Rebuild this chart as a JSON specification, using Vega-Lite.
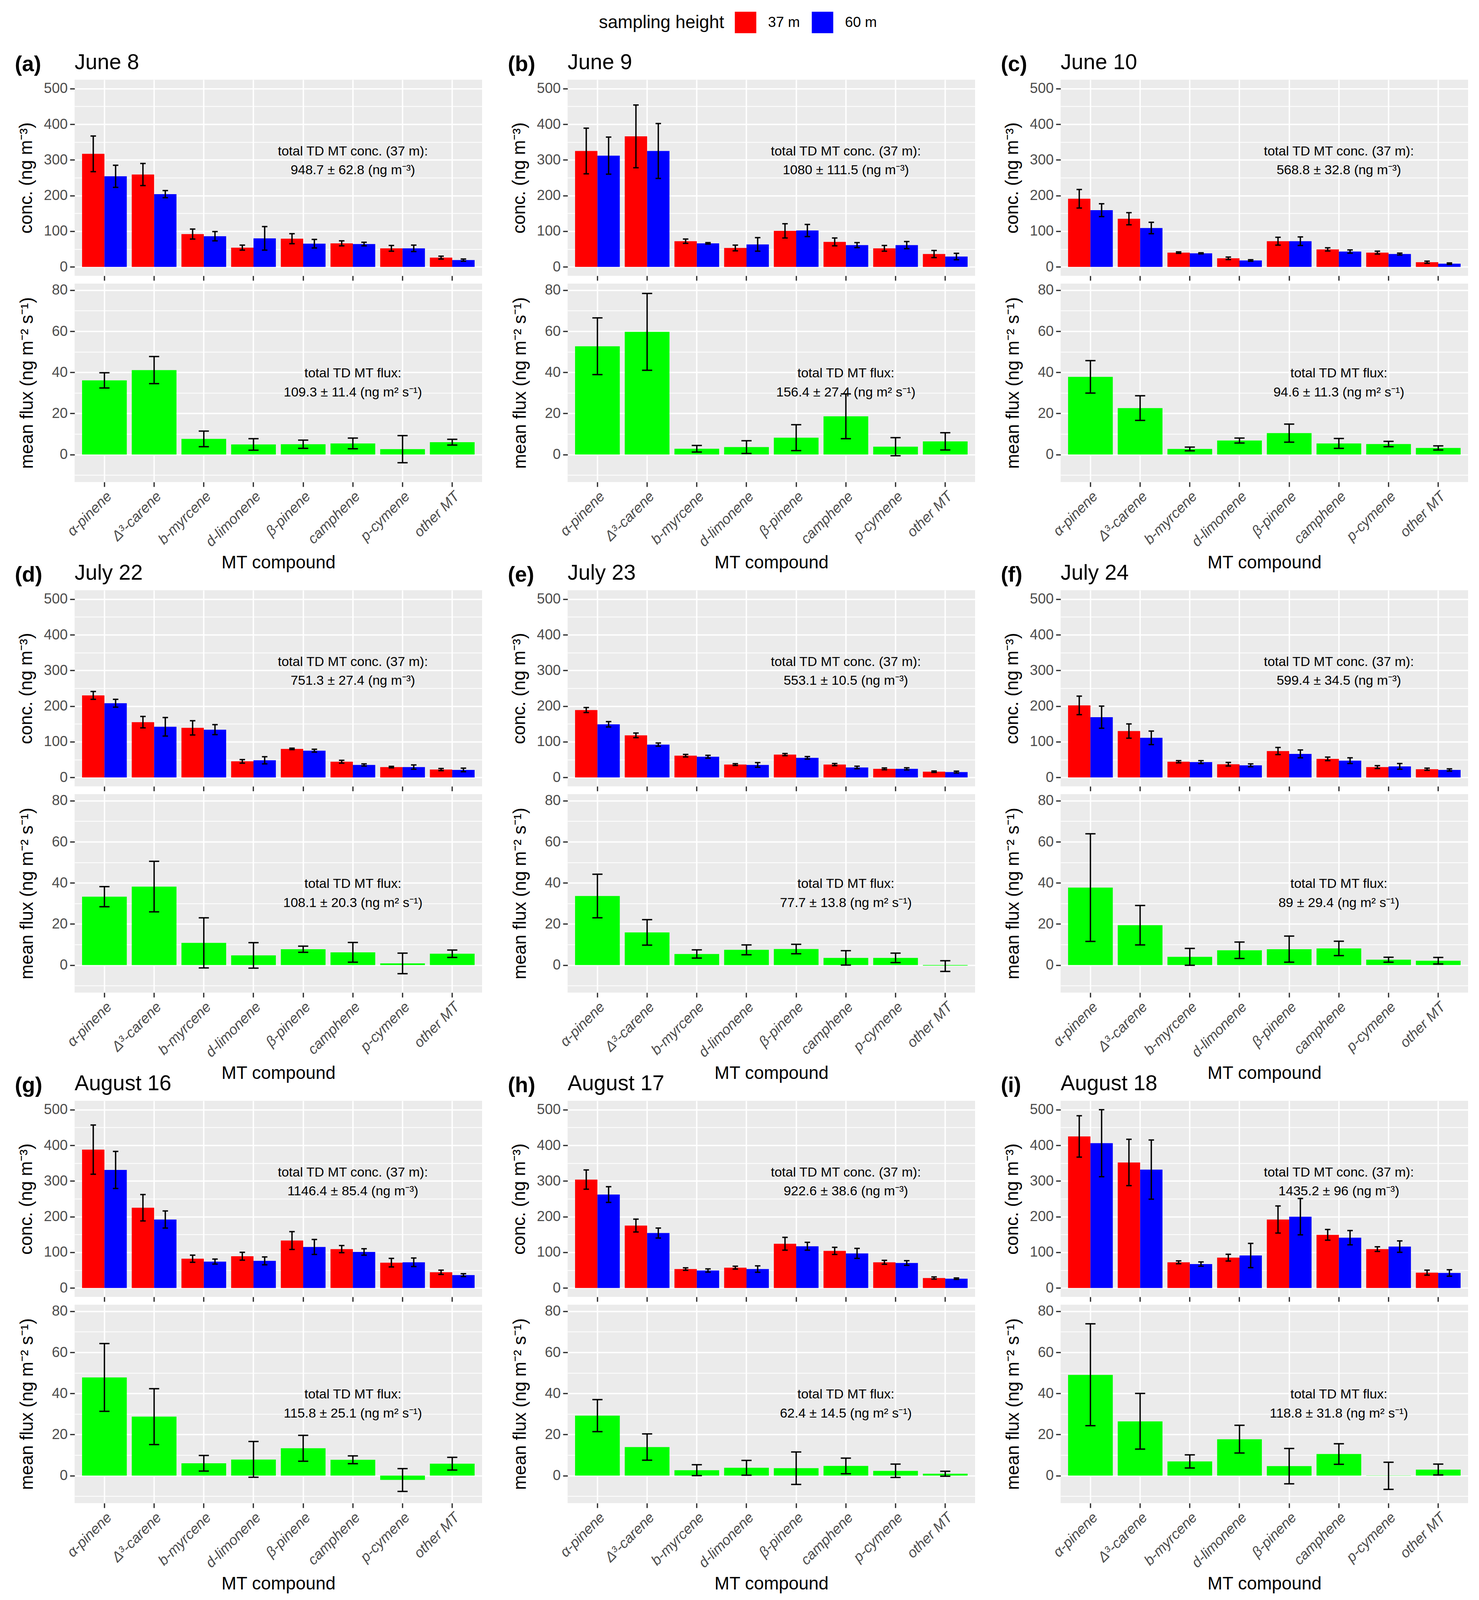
{
"$schema": "https://vega.github.io/schema/vega-lite/v6.json",
"background": "white",
"padding": {"left": 38, "top": 30, "right": 10, "bottom": 10},
"config": {
  "font": "Liberation Sans",
  "view": {"fill": "#EBEBEB", "stroke": null},
  "axis": {"domain": false, "grid": true, "gridColor": "#FFFFFF", "gridWidth": 3.5, "tickColor": "#333333", "tickWidth": 3.3, "tickSize": 12, "labelColor": "#4D4D4D", "labelFontSize": 36.7, "labelPadding": 6, "labelLimit": 1000, "titleFontSize": 45.8, "titleColor": "#000000", "titleFontWeight": "normal", "labelOverlap": false, "labelBound": false, "titlePadding": 14},
  "title": {"anchor": "start", "frame": "group", "fontSize": 55, "fontWeight": "normal", "color": "#000000", "baseline": "bottom", "offset": 15}
},
"datasets": {
"conc": [
{"d":"June 8","c":"α-pinene","h":"37 m","v":317,"lo":267,"hi":367},{"d":"June 8","c":"α-pinene","h":"60 m","v":254,"lo":223,"hi":285},
{"d":"June 8","c":"Δ³-carene","h":"37 m","v":259,"lo":228,"hi":290},{"d":"June 8","c":"Δ³-carene","h":"60 m","v":204,"lo":194,"hi":214},
{"d":"June 8","c":"b-myrcene","h":"37 m","v":92,"lo":78,"hi":106},{"d":"June 8","c":"b-myrcene","h":"60 m","v":86,"lo":73,"hi":99},
{"d":"June 8","c":"d-limonene","h":"37 m","v":54,"lo":47,"hi":61},{"d":"June 8","c":"d-limonene","h":"60 m","v":80,"lo":47,"hi":113},
{"d":"June 8","c":"β-pinene","h":"37 m","v":79,"lo":65,"hi":93},{"d":"June 8","c":"β-pinene","h":"60 m","v":65,"lo":53,"hi":77},
{"d":"June 8","c":"camphene","h":"37 m","v":66,"lo":59,"hi":73},{"d":"June 8","c":"camphene","h":"60 m","v":64,"lo":59,"hi":69},
{"d":"June 8","c":"p-cymene","h":"37 m","v":52,"lo":44,"hi":60},{"d":"June 8","c":"p-cymene","h":"60 m","v":52,"lo":43,"hi":61},
{"d":"June 8","c":"other MT","h":"37 m","v":26,"lo":22,"hi":30},{"d":"June 8","c":"other MT","h":"60 m","v":19,"lo":16,"hi":22},
{"d":"June 9","c":"α-pinene","h":"37 m","v":325,"lo":261,"hi":389},{"d":"June 9","c":"α-pinene","h":"60 m","v":312,"lo":260,"hi":364},
{"d":"June 9","c":"Δ³-carene","h":"37 m","v":366,"lo":278,"hi":454},{"d":"June 9","c":"Δ³-carene","h":"60 m","v":325,"lo":248,"hi":402},
{"d":"June 9","c":"b-myrcene","h":"37 m","v":72,"lo":66,"hi":78},{"d":"June 9","c":"b-myrcene","h":"60 m","v":66,"lo":64,"hi":68},
{"d":"June 9","c":"d-limonene","h":"37 m","v":53,"lo":45,"hi":61},{"d":"June 9","c":"d-limonene","h":"60 m","v":63,"lo":44,"hi":82},
{"d":"June 9","c":"β-pinene","h":"37 m","v":101,"lo":81,"hi":121},{"d":"June 9","c":"β-pinene","h":"60 m","v":102,"lo":85,"hi":119},
{"d":"June 9","c":"camphene","h":"37 m","v":70,"lo":59,"hi":81},{"d":"June 9","c":"camphene","h":"60 m","v":61,"lo":54,"hi":68},
{"d":"June 9","c":"p-cymene","h":"37 m","v":52,"lo":44,"hi":60},{"d":"June 9","c":"p-cymene","h":"60 m","v":61,"lo":51,"hi":71},
{"d":"June 9","c":"other MT","h":"37 m","v":36,"lo":26,"hi":46},{"d":"June 9","c":"other MT","h":"60 m","v":29,"lo":20,"hi":38},
{"d":"June 10","c":"α-pinene","h":"37 m","v":191,"lo":165,"hi":217},{"d":"June 10","c":"α-pinene","h":"60 m","v":159,"lo":141,"hi":177},
{"d":"June 10","c":"Δ³-carene","h":"37 m","v":135,"lo":118,"hi":152},{"d":"June 10","c":"Δ³-carene","h":"60 m","v":109,"lo":93,"hi":125},
{"d":"June 10","c":"b-myrcene","h":"37 m","v":40,"lo":38,"hi":42},{"d":"June 10","c":"b-myrcene","h":"60 m","v":38,"lo":36.5,"hi":39.5},
{"d":"June 10","c":"d-limonene","h":"37 m","v":24,"lo":20.5,"hi":27.5},{"d":"June 10","c":"d-limonene","h":"60 m","v":18,"lo":16,"hi":20},
{"d":"June 10","c":"β-pinene","h":"37 m","v":72,"lo":61,"hi":83},{"d":"June 10","c":"β-pinene","h":"60 m","v":72,"lo":60,"hi":84},
{"d":"June 10","c":"camphene","h":"37 m","v":49,"lo":44.5,"hi":53.5},{"d":"June 10","c":"camphene","h":"60 m","v":43,"lo":38.5,"hi":47.5},
{"d":"June 10","c":"p-cymene","h":"37 m","v":40,"lo":36,"hi":44},{"d":"June 10","c":"p-cymene","h":"60 m","v":36,"lo":33.5,"hi":38.5},
{"d":"June 10","c":"other MT","h":"37 m","v":13,"lo":10,"hi":16},{"d":"June 10","c":"other MT","h":"60 m","v":9,"lo":7,"hi":11},
{"d":"July 22","c":"α-pinene","h":"37 m","v":230,"lo":219,"hi":241},{"d":"July 22","c":"α-pinene","h":"60 m","v":208,"lo":197,"hi":219},
{"d":"July 22","c":"Δ³-carene","h":"37 m","v":155,"lo":139,"hi":171},{"d":"July 22","c":"Δ³-carene","h":"60 m","v":142,"lo":116,"hi":168},
{"d":"July 22","c":"b-myrcene","h":"37 m","v":139,"lo":119,"hi":159},{"d":"July 22","c":"b-myrcene","h":"60 m","v":134,"lo":120,"hi":148},
{"d":"July 22","c":"d-limonene","h":"37 m","v":45,"lo":40,"hi":50},{"d":"July 22","c":"d-limonene","h":"60 m","v":48,"lo":38,"hi":58},
{"d":"July 22","c":"β-pinene","h":"37 m","v":80,"lo":78,"hi":82},{"d":"July 22","c":"β-pinene","h":"60 m","v":75,"lo":71,"hi":79},
{"d":"July 22","c":"camphene","h":"37 m","v":44,"lo":40,"hi":48},{"d":"July 22","c":"camphene","h":"60 m","v":35,"lo":32,"hi":38},
{"d":"July 22","c":"p-cymene","h":"37 m","v":29,"lo":27,"hi":31},{"d":"July 22","c":"p-cymene","h":"60 m","v":29,"lo":23,"hi":35},
{"d":"July 22","c":"other MT","h":"37 m","v":22,"lo":19,"hi":25},{"d":"July 22","c":"other MT","h":"60 m","v":21,"lo":16,"hi":26},
{"d":"July 23","c":"α-pinene","h":"37 m","v":189,"lo":182,"hi":196},{"d":"July 23","c":"α-pinene","h":"60 m","v":149,"lo":141.5,"hi":156.5},
{"d":"July 23","c":"Δ³-carene","h":"37 m","v":118,"lo":111.5,"hi":124.5},{"d":"July 23","c":"Δ³-carene","h":"60 m","v":92,"lo":87.5,"hi":96.5},
{"d":"July 23","c":"b-myrcene","h":"37 m","v":61,"lo":57.5,"hi":64.5},{"d":"July 23","c":"b-myrcene","h":"60 m","v":58,"lo":54,"hi":62},
{"d":"July 23","c":"d-limonene","h":"37 m","v":36,"lo":33.5,"hi":38.5},{"d":"July 23","c":"d-limonene","h":"60 m","v":35,"lo":28.5,"hi":41.5},
{"d":"July 23","c":"β-pinene","h":"37 m","v":64,"lo":61,"hi":67},{"d":"July 23","c":"β-pinene","h":"60 m","v":55,"lo":51.5,"hi":58.5},
{"d":"July 23","c":"camphene","h":"37 m","v":36,"lo":33,"hi":39},{"d":"July 23","c":"camphene","h":"60 m","v":28,"lo":24.5,"hi":31.5},
{"d":"July 23","c":"p-cymene","h":"37 m","v":24,"lo":21.5,"hi":26.5},{"d":"July 23","c":"p-cymene","h":"60 m","v":24,"lo":21,"hi":27},
{"d":"July 23","c":"other MT","h":"37 m","v":16,"lo":14,"hi":18},{"d":"July 23","c":"other MT","h":"60 m","v":15,"lo":12.5,"hi":17.5},
{"d":"July 24","c":"α-pinene","h":"37 m","v":202,"lo":176,"hi":228},{"d":"July 24","c":"α-pinene","h":"60 m","v":169,"lo":138,"hi":200},
{"d":"July 24","c":"Δ³-carene","h":"37 m","v":130,"lo":110,"hi":150},{"d":"July 24","c":"Δ³-carene","h":"60 m","v":111,"lo":92,"hi":130},
{"d":"July 24","c":"b-myrcene","h":"37 m","v":44,"lo":41,"hi":47},{"d":"July 24","c":"b-myrcene","h":"60 m","v":43,"lo":39,"hi":47},
{"d":"July 24","c":"d-limonene","h":"37 m","v":37,"lo":32,"hi":42},{"d":"July 24","c":"d-limonene","h":"60 m","v":34,"lo":30,"hi":38},
{"d":"July 24","c":"β-pinene","h":"37 m","v":74,"lo":64,"hi":84},{"d":"July 24","c":"β-pinene","h":"60 m","v":66,"lo":55,"hi":77},
{"d":"July 24","c":"camphene","h":"37 m","v":52,"lo":47,"hi":57},{"d":"July 24","c":"camphene","h":"60 m","v":47,"lo":39,"hi":55},
{"d":"July 24","c":"p-cymene","h":"37 m","v":29,"lo":25,"hi":33},{"d":"July 24","c":"p-cymene","h":"60 m","v":31,"lo":23,"hi":39},
{"d":"July 24","c":"other MT","h":"37 m","v":23,"lo":20,"hi":26},{"d":"July 24","c":"other MT","h":"60 m","v":21,"lo":18,"hi":24},
{"d":"August 16","c":"α-pinene","h":"37 m","v":388,"lo":319,"hi":457},{"d":"August 16","c":"α-pinene","h":"60 m","v":331,"lo":279,"hi":383},
{"d":"August 16","c":"Δ³-carene","h":"37 m","v":225,"lo":188,"hi":262},{"d":"August 16","c":"Δ³-carene","h":"60 m","v":192,"lo":168,"hi":216},
{"d":"August 16","c":"b-myrcene","h":"37 m","v":82,"lo":72,"hi":92},{"d":"August 16","c":"b-myrcene","h":"60 m","v":74,"lo":67,"hi":81},
{"d":"August 16","c":"d-limonene","h":"37 m","v":89,"lo":78,"hi":100},{"d":"August 16","c":"d-limonene","h":"60 m","v":76,"lo":65,"hi":87},
{"d":"August 16","c":"β-pinene","h":"37 m","v":133,"lo":108,"hi":158},{"d":"August 16","c":"β-pinene","h":"60 m","v":115,"lo":94,"hi":136},
{"d":"August 16","c":"camphene","h":"37 m","v":109,"lo":99,"hi":119},{"d":"August 16","c":"camphene","h":"60 m","v":101,"lo":92,"hi":110},
{"d":"August 16","c":"p-cymene","h":"37 m","v":71,"lo":59,"hi":83},{"d":"August 16","c":"p-cymene","h":"60 m","v":72,"lo":60,"hi":84},
{"d":"August 16","c":"other MT","h":"37 m","v":44,"lo":38,"hi":50},{"d":"August 16","c":"other MT","h":"60 m","v":36,"lo":32,"hi":40},
{"d":"August 17","c":"α-pinene","h":"37 m","v":304,"lo":277,"hi":331},{"d":"August 17","c":"α-pinene","h":"60 m","v":262,"lo":240,"hi":284},
{"d":"August 17","c":"Δ³-carene","h":"37 m","v":175,"lo":157,"hi":193},{"d":"August 17","c":"Δ³-carene","h":"60 m","v":154,"lo":140,"hi":168},
{"d":"August 17","c":"b-myrcene","h":"37 m","v":53,"lo":49.5,"hi":56.5},{"d":"August 17","c":"b-myrcene","h":"60 m","v":49,"lo":44.5,"hi":53.5},
{"d":"August 17","c":"d-limonene","h":"37 m","v":57,"lo":53,"hi":61},{"d":"August 17","c":"d-limonene","h":"60 m","v":53,"lo":44,"hi":62},
{"d":"August 17","c":"β-pinene","h":"37 m","v":124,"lo":106,"hi":142},{"d":"August 17","c":"β-pinene","h":"60 m","v":117,"lo":106,"hi":128},
{"d":"August 17","c":"camphene","h":"37 m","v":104,"lo":94,"hi":114},{"d":"August 17","c":"camphene","h":"60 m","v":97,"lo":83,"hi":111},
{"d":"August 17","c":"p-cymene","h":"37 m","v":72,"lo":66.5,"hi":77.5},{"d":"August 17","c":"p-cymene","h":"60 m","v":70,"lo":63.5,"hi":76.5},
{"d":"August 17","c":"other MT","h":"37 m","v":28,"lo":25,"hi":31},{"d":"August 17","c":"other MT","h":"60 m","v":26,"lo":24,"hi":28},
{"d":"August 18","c":"α-pinene","h":"37 m","v":425,"lo":367,"hi":483},{"d":"August 18","c":"α-pinene","h":"60 m","v":406,"lo":312,"hi":500},
{"d":"August 18","c":"Δ³-carene","h":"37 m","v":352,"lo":287,"hi":417},{"d":"August 18","c":"Δ³-carene","h":"60 m","v":332,"lo":249,"hi":415},
{"d":"August 18","c":"b-myrcene","h":"37 m","v":72,"lo":68,"hi":76},{"d":"August 18","c":"b-myrcene","h":"60 m","v":67,"lo":61,"hi":73},
{"d":"August 18","c":"d-limonene","h":"37 m","v":85,"lo":75.5,"hi":94.5},{"d":"August 18","c":"d-limonene","h":"60 m","v":91,"lo":57,"hi":125},
{"d":"August 18","c":"β-pinene","h":"37 m","v":192,"lo":154,"hi":230},{"d":"August 18","c":"β-pinene","h":"60 m","v":200,"lo":149,"hi":251},
{"d":"August 18","c":"camphene","h":"37 m","v":149,"lo":134,"hi":164},{"d":"August 18","c":"camphene","h":"60 m","v":141,"lo":121,"hi":161},
{"d":"August 18","c":"p-cymene","h":"37 m","v":109,"lo":102.5,"hi":115.5},{"d":"August 18","c":"p-cymene","h":"60 m","v":116,"lo":100,"hi":132},
{"d":"August 18","c":"other MT","h":"37 m","v":43,"lo":36,"hi":50},{"d":"August 18","c":"other MT","h":"60 m","v":42,"lo":33,"hi":51}
],
"flux": [
{"d":"June 8","c":"α-pinene","v":36.1,"lo":32.4,"hi":39.8},{"d":"June 8","c":"Δ³-carene","v":41.1,"lo":34.5,"hi":47.7},{"d":"June 8","c":"b-myrcene","v":7.6,"lo":3.8,"hi":11.4},{"d":"June 8","c":"d-limonene","v":4.9,"lo":2.1,"hi":7.7},{"d":"June 8","c":"β-pinene","v":5.0,"lo":3.0,"hi":7.0},{"d":"June 8","c":"camphene","v":5.4,"lo":2.8,"hi":8.0},{"d":"June 8","c":"p-cymene","v":2.6,"lo":-4.0,"hi":9.2},{"d":"June 8","c":"other MT","v":6.0,"lo":4.6,"hi":7.4},
{"d":"June 9","c":"α-pinene","v":52.7,"lo":38.9,"hi":66.5},{"d":"June 9","c":"Δ³-carene","v":59.7,"lo":41.0,"hi":78.4},{"d":"June 9","c":"b-myrcene","v":2.8,"lo":1.2,"hi":4.4},{"d":"June 9","c":"d-limonene","v":3.6,"lo":0.5,"hi":6.7},{"d":"June 9","c":"β-pinene","v":8.2,"lo":1.9,"hi":14.5},{"d":"June 9","c":"camphene","v":18.6,"lo":7.7,"hi":29.5},{"d":"June 9","c":"p-cymene","v":3.8,"lo":-0.6,"hi":8.2},{"d":"June 9","c":"other MT","v":6.4,"lo":2.2,"hi":10.6},
{"d":"June 10","c":"α-pinene","v":37.8,"lo":29.9,"hi":45.7},{"d":"June 10","c":"Δ³-carene","v":22.6,"lo":16.6,"hi":28.6},{"d":"June 10","c":"b-myrcene","v":2.7,"lo":1.8,"hi":3.6},{"d":"June 10","c":"d-limonene","v":6.8,"lo":5.6,"hi":8.0},{"d":"June 10","c":"β-pinene","v":10.4,"lo":6.0,"hi":14.8},{"d":"June 10","c":"camphene","v":5.4,"lo":3.0,"hi":7.8},{"d":"June 10","c":"p-cymene","v":5.1,"lo":3.8,"hi":6.4},{"d":"June 10","c":"other MT","v":3.2,"lo":2.2,"hi":4.2},
{"d":"July 22","c":"α-pinene","v":33.3,"lo":28.4,"hi":38.2},{"d":"July 22","c":"Δ³-carene","v":38.2,"lo":25.9,"hi":50.5},{"d":"July 22","c":"b-myrcene","v":10.8,"lo":-1.4,"hi":23.0},{"d":"July 22","c":"d-limonene","v":4.7,"lo":-1.5,"hi":10.9},{"d":"July 22","c":"β-pinene","v":7.7,"lo":6.2,"hi":9.2},{"d":"July 22","c":"camphene","v":6.2,"lo":1.4,"hi":11.0},{"d":"July 22","c":"p-cymene","v":0.8,"lo":-4.2,"hi":5.8},{"d":"July 22","c":"other MT","v":5.5,"lo":3.7,"hi":7.3},
{"d":"July 23","c":"α-pinene","v":33.6,"lo":23.0,"hi":44.2},{"d":"July 23","c":"Δ³-carene","v":15.9,"lo":9.7,"hi":22.1},{"d":"July 23","c":"b-myrcene","v":5.4,"lo":3.4,"hi":7.4},{"d":"July 23","c":"d-limonene","v":7.4,"lo":5.0,"hi":9.8},{"d":"July 23","c":"β-pinene","v":7.8,"lo":5.5,"hi":10.1},{"d":"July 23","c":"camphene","v":3.5,"lo":0.0,"hi":7.0},{"d":"July 23","c":"p-cymene","v":3.5,"lo":1.2,"hi":5.8},{"d":"July 23","c":"other MT","v":-0.3,"lo":-3.1,"hi":2.1},
{"d":"July 24","c":"α-pinene","v":37.7,"lo":11.5,"hi":63.9},{"d":"July 24","c":"Δ³-carene","v":19.4,"lo":9.8,"hi":29.0},{"d":"July 24","c":"b-myrcene","v":4.0,"lo":-0.1,"hi":8.1},{"d":"July 24","c":"d-limonene","v":7.2,"lo":3.2,"hi":11.2},{"d":"July 24","c":"β-pinene","v":7.7,"lo":1.4,"hi":14.1},{"d":"July 24","c":"camphene","v":8.1,"lo":4.6,"hi":11.6},{"d":"July 24","c":"p-cymene","v":2.6,"lo":1.4,"hi":3.8},{"d":"July 24","c":"other MT","v":2.1,"lo":0.5,"hi":3.7},
{"d":"August 16","c":"α-pinene","v":47.8,"lo":31.3,"hi":64.3},{"d":"August 16","c":"Δ³-carene","v":28.7,"lo":15.1,"hi":42.3},{"d":"August 16","c":"b-myrcene","v":6.0,"lo":2.2,"hi":9.8},{"d":"August 16","c":"d-limonene","v":7.8,"lo":-0.8,"hi":16.6},{"d":"August 16","c":"β-pinene","v":13.3,"lo":7.0,"hi":19.6},{"d":"August 16","c":"camphene","v":7.7,"lo":5.8,"hi":9.6},{"d":"August 16","c":"p-cymene","v":-2.1,"lo":-7.7,"hi":3.4},{"d":"August 16","c":"other MT","v":5.8,"lo":2.7,"hi":8.9},
{"d":"August 17","c":"α-pinene","v":29.2,"lo":21.4,"hi":37.0},{"d":"August 17","c":"Δ³-carene","v":13.9,"lo":7.5,"hi":20.3},{"d":"August 17","c":"b-myrcene","v":2.6,"lo":0.0,"hi":5.3},{"d":"August 17","c":"d-limonene","v":3.8,"lo":0.2,"hi":7.4},{"d":"August 17","c":"β-pinene","v":3.6,"lo":-4.3,"hi":11.5},{"d":"August 17","c":"camphene","v":4.7,"lo":0.9,"hi":8.5},{"d":"August 17","c":"p-cymene","v":2.3,"lo":-0.9,"hi":5.6},{"d":"August 17","c":"other MT","v":0.9,"lo":-0.3,"hi":2.1},
{"d":"August 18","c":"α-pinene","v":49.0,"lo":24.3,"hi":73.9},{"d":"August 18","c":"Δ³-carene","v":26.4,"lo":12.9,"hi":40.0},{"d":"August 18","c":"b-myrcene","v":6.9,"lo":3.7,"hi":10.1},{"d":"August 18","c":"d-limonene","v":17.7,"lo":11.0,"hi":24.5},{"d":"August 18","c":"β-pinene","v":4.6,"lo":-4.0,"hi":13.2},{"d":"August 18","c":"camphene","v":10.5,"lo":5.5,"hi":15.5},{"d":"August 18","c":"p-cymene","v":-0.1,"lo":-6.7,"hi":6.5},{"d":"August 18","c":"other MT","v":2.9,"lo":0.3,"hi":5.6}
],
"annC": [
{"d":"June 8","c":"camphene","y":323,"t":"total TD MT conc. (37 m):"},{"d":"June 8","c":"camphene","y":271,"t":"948.7 ± 62.8 (ng m⁻³)"},
{"d":"June 9","c":"camphene","y":323,"t":"total TD MT conc. (37 m):"},{"d":"June 9","c":"camphene","y":271,"t":"1080 ± 111.5 (ng m⁻³)"},
{"d":"June 10","c":"camphene","y":323,"t":"total TD MT conc. (37 m):"},{"d":"June 10","c":"camphene","y":271,"t":"568.8 ± 32.8 (ng m⁻³)"},
{"d":"July 22","c":"camphene","y":323,"t":"total TD MT conc. (37 m):"},{"d":"July 22","c":"camphene","y":271,"t":"751.3 ± 27.4 (ng m⁻³)"},
{"d":"July 23","c":"camphene","y":323,"t":"total TD MT conc. (37 m):"},{"d":"July 23","c":"camphene","y":271,"t":"553.1 ± 10.5 (ng m⁻³)"},
{"d":"July 24","c":"camphene","y":323,"t":"total TD MT conc. (37 m):"},{"d":"July 24","c":"camphene","y":271,"t":"599.4 ± 34.5 (ng m⁻³)"},
{"d":"August 16","c":"camphene","y":323,"t":"total TD MT conc. (37 m):"},{"d":"August 16","c":"camphene","y":271,"t":"1146.4 ± 85.4 (ng m⁻³)"},
{"d":"August 17","c":"camphene","y":323,"t":"total TD MT conc. (37 m):"},{"d":"August 17","c":"camphene","y":271,"t":"922.6 ± 38.6 (ng m⁻³)"},
{"d":"August 18","c":"camphene","y":323,"t":"total TD MT conc. (37 m):"},{"d":"August 18","c":"camphene","y":271,"t":"1435.2 ± 96 (ng m⁻³)"}
],
"annF": [
{"d":"June 8","c":"camphene","y":39.4,"t":"total TD MT flux:"},{"d":"June 8","c":"camphene","y":30.1,"t":"109.3 ± 11.4 (ng m² s⁻¹)"},
{"d":"June 9","c":"camphene","y":39.4,"t":"total TD MT flux:"},{"d":"June 9","c":"camphene","y":30.1,"t":"156.4 ± 27.4 (ng m² s⁻¹)"},
{"d":"June 10","c":"camphene","y":39.4,"t":"total TD MT flux:"},{"d":"June 10","c":"camphene","y":30.1,"t":"94.6 ± 11.3 (ng m² s⁻¹)"},
{"d":"July 22","c":"camphene","y":39.4,"t":"total TD MT flux:"},{"d":"July 22","c":"camphene","y":30.1,"t":"108.1 ± 20.3 (ng m² s⁻¹)"},
{"d":"July 23","c":"camphene","y":39.4,"t":"total TD MT flux:"},{"d":"July 23","c":"camphene","y":30.1,"t":"77.7 ± 13.8 (ng m² s⁻¹)"},
{"d":"July 24","c":"camphene","y":39.4,"t":"total TD MT flux:"},{"d":"July 24","c":"camphene","y":30.1,"t":"89 ± 29.4 (ng m² s⁻¹)"},
{"d":"August 16","c":"camphene","y":39.4,"t":"total TD MT flux:"},{"d":"August 16","c":"camphene","y":30.1,"t":"115.8 ± 25.1 (ng m² s⁻¹)"},
{"d":"August 17","c":"camphene","y":39.4,"t":"total TD MT flux:"},{"d":"August 17","c":"camphene","y":30.1,"t":"62.4 ± 14.5 (ng m² s⁻¹)"},
{"d":"August 18","c":"camphene","y":39.4,"t":"total TD MT flux:"},{"d":"August 18","c":"camphene","y":30.1,"t":"118.8 ± 31.8 (ng m² s⁻¹)"}
]
},
"spacing": -24,
"vconcat": [
{"hconcat": [
{"title": {"text": "(a)", "fontWeight": "bold", "dx": -153, "dy": 76}, "bounds": "flush", "spacing": 20, "vconcat": [
 {"width": 1043, "height": 502, "title": "June 8", "data": {"name": "conc"}, "transform": [{"filter": "datum.d === 'June 8'"}],
  "encoding": {"x": {"field": "c", "type": "nominal", "scale": {"domain": ["α-pinene","Δ³-carene","b-myrcene","d-limonene","β-pinene","camphene","p-cymene","other MT"], "paddingInner": 0.1, "paddingOuter": 0.15}, "axis": {"labels": false, "title": null}}},
  "layer": [
   {"mark": {"type": "bar"}, "encoding": {"xOffset": {"field": "h", "type": "nominal", "scale": {"paddingInner": 0, "paddingOuter": 0}}, "y": {"field": "v", "type": "quantitative", "title": "conc. (ng m⁻³)", "scale": {"domain": [-25, 525], "nice": false, "zero": false}, "axis": {"values": [0,50,100,150,200,250,300,350,400,450,500], "labelExpr": "datum.value % 20 === 0 ? datum.label : ''", "gridWidth": {"condition": {"test": "datum.value % 20 === 0", "value": 3.5}, "value": 1.8}, "tickColor": {"condition": {"test": "datum.value % 20 === 0", "value": "#333333"}, "value": "transparent"}, "titlePadding": 20}}, "color": {"field": "h", "type": "nominal", "scale": {"domain": ["37 m","60 m"], "range": ["#FF0000","#0000FF"]}, "legend": {"title": "sampling height", "orient": "none", "legendX": 1342, "legendY": -174, "direction": "horizontal", "titleOrient": "left", "titleLimit": 1000, "titleFontSize": 45.8, "titleFontWeight": "normal", "titleColor": "#000000", "labelFontSize": 36.7, "labelColor": "#000000", "symbolType": "square", "symbolSize": 3025, "symbolStrokeWidth": 0, "symbolOpacity": 1, "labelOffset": 30, "columnPadding": 30, "titlePadding": 27}}}},
   {"data": {"name": "annC"}, "transform": [{"filter": "datum.d === 'June 8'"}], "mark": {"type": "text", "fontSize": 34, "color": "#000000", "align": "center", "baseline": "middle"}, "encoding": {"y": {"field": "y", "type": "quantitative", "title": "conc. (ng m⁻³)"}, "text": {"field": "t"}}},
   {"mark": {"type": "rule", "color": "#000000", "strokeWidth": 3.5}, "encoding": {"xOffset": {"field": "h", "type": "nominal"}, "y": {"field": "lo", "type": "quantitative", "title": "conc. (ng m⁻³)"}, "y2": {"field": "hi"}}},
   {"mark": {"type": "tick", "color": "#000000", "size": 14, "thickness": 3.5, "opacity": 1}, "encoding": {"xOffset": {"field": "h", "type": "nominal"}, "y": {"field": "lo", "type": "quantitative", "title": "conc. (ng m⁻³)"}}},
   {"mark": {"type": "tick", "color": "#000000", "size": 14, "thickness": 3.5, "opacity": 1}, "encoding": {"xOffset": {"field": "h", "type": "nominal"}, "y": {"field": "hi", "type": "quantitative", "title": "conc. (ng m⁻³)"}}}
  ]},
 {"width": 1043, "height": 508, "data": {"name": "flux"}, "transform": [{"filter": "datum.d === 'June 8'"}],
  "encoding": {"x": {"field": "c", "type": "nominal", "scale": {"domain": ["α-pinene","Δ³-carene","b-myrcene","d-limonene","β-pinene","camphene","p-cymene","other MT"], "paddingInner": 0.1, "paddingOuter": 0.15}, "axis": {"title": "MT compound", "titlePadding": 12, "labelAngle": -45, "labelAlign": "right", "labelBaseline": "top", "labelFontStyle": "italic"}}},
  "layer": [
   {"mark": {"type": "bar", "color": "#00FF00"}, "encoding": {"y": {"field": "v", "type": "quantitative", "title": "mean flux (ng m⁻² s⁻¹)", "scale": {"domain": [-13.4, 83.2], "nice": false, "zero": false}, "axis": {"values": [-10,0,10,20,30,40,50,60,70,80], "labelExpr": "datum.value % 20 === 0 ? datum.label : ''", "gridWidth": {"condition": {"test": "datum.value % 20 === 0", "value": 3.5}, "value": 1.8}, "tickColor": {"condition": {"test": "datum.value % 20 === 0", "value": "#333333"}, "value": "transparent"}, "titlePadding": 39}}}},
   {"data": {"name": "annF"}, "transform": [{"filter": "datum.d === 'June 8'"}], "mark": {"type": "text", "fontSize": 34, "color": "#000000", "align": "center", "baseline": "middle"}, "encoding": {"y": {"field": "y", "type": "quantitative", "title": "mean flux (ng m⁻² s⁻¹)"}, "text": {"field": "t"}}},
   {"mark": {"type": "rule", "color": "#000000", "strokeWidth": 3.5}, "encoding": {"y": {"field": "lo", "type": "quantitative", "title": "mean flux (ng m⁻² s⁻¹)"}, "y2": {"field": "hi"}}},
   {"mark": {"type": "tick", "color": "#000000", "size": 26, "thickness": 3.5, "opacity": 1}, "encoding": {"y": {"field": "lo", "type": "quantitative", "title": "mean flux (ng m⁻² s⁻¹)"}}},
   {"mark": {"type": "tick", "color": "#000000", "size": 26, "thickness": 3.5, "opacity": 1}, "encoding": {"y": {"field": "hi", "type": "quantitative", "title": "mean flux (ng m⁻² s⁻¹)"}}}
  ]}
]},
{"title": {"text": "(b)", "fontWeight": "bold", "dx": -153, "dy": 76}, "bounds": "flush", "spacing": 20, "vconcat": [
 {"width": 1043, "height": 502, "title": "June 9", "data": {"name": "conc"}, "transform": [{"filter": "datum.d === 'June 9'"}],
  "encoding": {"x": {"field": "c", "type": "nominal", "scale": {"domain": ["α-pinene","Δ³-carene","b-myrcene","d-limonene","β-pinene","camphene","p-cymene","other MT"], "paddingInner": 0.1, "paddingOuter": 0.15}, "axis": {"labels": false, "title": null}}},
  "layer": [
   {"mark": {"type": "bar"}, "encoding": {"xOffset": {"field": "h", "type": "nominal", "scale": {"paddingInner": 0, "paddingOuter": 0}}, "y": {"field": "v", "type": "quantitative", "title": "conc. (ng m⁻³)", "scale": {"domain": [-25, 525], "nice": false, "zero": false}, "axis": {"values": [0,50,100,150,200,250,300,350,400,450,500], "labelExpr": "datum.value % 20 === 0 ? datum.label : ''", "gridWidth": {"condition": {"test": "datum.value % 20 === 0", "value": 3.5}, "value": 1.8}, "tickColor": {"condition": {"test": "datum.value % 20 === 0", "value": "#333333"}, "value": "transparent"}, "titlePadding": 20}}, "color": {"field": "h", "type": "nominal", "scale": {"domain": ["37 m","60 m"], "range": ["#FF0000","#0000FF"]}, "legend": {"title": "sampling height", "orient": "none", "legendX": 1342, "legendY": -174, "direction": "horizontal", "titleOrient": "left", "titleLimit": 1000, "titleFontSize": 45.8, "titleFontWeight": "normal", "titleColor": "#000000", "labelFontSize": 36.7, "labelColor": "#000000", "symbolType": "square", "symbolSize": 3025, "symbolStrokeWidth": 0, "symbolOpacity": 1, "labelOffset": 30, "columnPadding": 30, "titlePadding": 27}}}},
   {"data": {"name": "annC"}, "transform": [{"filter": "datum.d === 'June 9'"}], "mark": {"type": "text", "fontSize": 34, "color": "#000000", "align": "center", "baseline": "middle"}, "encoding": {"y": {"field": "y", "type": "quantitative", "title": "conc. (ng m⁻³)"}, "text": {"field": "t"}}},
   {"mark": {"type": "rule", "color": "#000000", "strokeWidth": 3.5}, "encoding": {"xOffset": {"field": "h", "type": "nominal"}, "y": {"field": "lo", "type": "quantitative", "title": "conc. (ng m⁻³)"}, "y2": {"field": "hi"}}},
   {"mark": {"type": "tick", "color": "#000000", "size": 14, "thickness": 3.5, "opacity": 1}, "encoding": {"xOffset": {"field": "h", "type": "nominal"}, "y": {"field": "lo", "type": "quantitative", "title": "conc. (ng m⁻³)"}}},
   {"mark": {"type": "tick", "color": "#000000", "size": 14, "thickness": 3.5, "opacity": 1}, "encoding": {"xOffset": {"field": "h", "type": "nominal"}, "y": {"field": "hi", "type": "quantitative", "title": "conc. (ng m⁻³)"}}}
  ]},
 {"width": 1043, "height": 508, "data": {"name": "flux"}, "transform": [{"filter": "datum.d === 'June 9'"}],
  "encoding": {"x": {"field": "c", "type": "nominal", "scale": {"domain": ["α-pinene","Δ³-carene","b-myrcene","d-limonene","β-pinene","camphene","p-cymene","other MT"], "paddingInner": 0.1, "paddingOuter": 0.15}, "axis": {"title": "MT compound", "titlePadding": 12, "labelAngle": -45, "labelAlign": "right", "labelBaseline": "top", "labelFontStyle": "italic"}}},
  "layer": [
   {"mark": {"type": "bar", "color": "#00FF00"}, "encoding": {"y": {"field": "v", "type": "quantitative", "title": "mean flux (ng m⁻² s⁻¹)", "scale": {"domain": [-13.4, 83.2], "nice": false, "zero": false}, "axis": {"values": [-10,0,10,20,30,40,50,60,70,80], "labelExpr": "datum.value % 20 === 0 ? datum.label : ''", "gridWidth": {"condition": {"test": "datum.value % 20 === 0", "value": 3.5}, "value": 1.8}, "tickColor": {"condition": {"test": "datum.value % 20 === 0", "value": "#333333"}, "value": "transparent"}, "titlePadding": 39}}}},
   {"data": {"name": "annF"}, "transform": [{"filter": "datum.d === 'June 9'"}], "mark": {"type": "text", "fontSize": 34, "color": "#000000", "align": "center", "baseline": "middle"}, "encoding": {"y": {"field": "y", "type": "quantitative", "title": "mean flux (ng m⁻² s⁻¹)"}, "text": {"field": "t"}}},
   {"mark": {"type": "rule", "color": "#000000", "strokeWidth": 3.5}, "encoding": {"y": {"field": "lo", "type": "quantitative", "title": "mean flux (ng m⁻² s⁻¹)"}, "y2": {"field": "hi"}}},
   {"mark": {"type": "tick", "color": "#000000", "size": 26, "thickness": 3.5, "opacity": 1}, "encoding": {"y": {"field": "lo", "type": "quantitative", "title": "mean flux (ng m⁻² s⁻¹)"}}},
   {"mark": {"type": "tick", "color": "#000000", "size": 26, "thickness": 3.5, "opacity": 1}, "encoding": {"y": {"field": "hi", "type": "quantitative", "title": "mean flux (ng m⁻² s⁻¹)"}}}
  ]}
]},
{"title": {"text": "(c)", "fontWeight": "bold", "dx": -153, "dy": 76}, "bounds": "flush", "spacing": 20, "vconcat": [
 {"width": 1043, "height": 502, "title": "June 10", "data": {"name": "conc"}, "transform": [{"filter": "datum.d === 'June 10'"}],
  "encoding": {"x": {"field": "c", "type": "nominal", "scale": {"domain": ["α-pinene","Δ³-carene","b-myrcene","d-limonene","β-pinene","camphene","p-cymene","other MT"], "paddingInner": 0.1, "paddingOuter": 0.15}, "axis": {"labels": false, "title": null}}},
  "layer": [
   {"mark": {"type": "bar"}, "encoding": {"xOffset": {"field": "h", "type": "nominal", "scale": {"paddingInner": 0, "paddingOuter": 0}}, "y": {"field": "v", "type": "quantitative", "title": "conc. (ng m⁻³)", "scale": {"domain": [-25, 525], "nice": false, "zero": false}, "axis": {"values": [0,50,100,150,200,250,300,350,400,450,500], "labelExpr": "datum.value % 20 === 0 ? datum.label : ''", "gridWidth": {"condition": {"test": "datum.value % 20 === 0", "value": 3.5}, "value": 1.8}, "tickColor": {"condition": {"test": "datum.value % 20 === 0", "value": "#333333"}, "value": "transparent"}, "titlePadding": 20}}, "color": {"field": "h", "type": "nominal", "scale": {"domain": ["37 m","60 m"], "range": ["#FF0000","#0000FF"]}, "legend": {"title": "sampling height", "orient": "none", "legendX": 1342, "legendY": -174, "direction": "horizontal", "titleOrient": "left", "titleLimit": 1000, "titleFontSize": 45.8, "titleFontWeight": "normal", "titleColor": "#000000", "labelFontSize": 36.7, "labelColor": "#000000", "symbolType": "square", "symbolSize": 3025, "symbolStrokeWidth": 0, "symbolOpacity": 1, "labelOffset": 30, "columnPadding": 30, "titlePadding": 27}}}},
   {"data": {"name": "annC"}, "transform": [{"filter": "datum.d === 'June 10'"}], "mark": {"type": "text", "fontSize": 34, "color": "#000000", "align": "center", "baseline": "middle"}, "encoding": {"y": {"field": "y", "type": "quantitative", "title": "conc. (ng m⁻³)"}, "text": {"field": "t"}}},
   {"mark": {"type": "rule", "color": "#000000", "strokeWidth": 3.5}, "encoding": {"xOffset": {"field": "h", "type": "nominal"}, "y": {"field": "lo", "type": "quantitative", "title": "conc. (ng m⁻³)"}, "y2": {"field": "hi"}}},
   {"mark": {"type": "tick", "color": "#000000", "size": 14, "thickness": 3.5, "opacity": 1}, "encoding": {"xOffset": {"field": "h", "type": "nominal"}, "y": {"field": "lo", "type": "quantitative", "title": "conc. (ng m⁻³)"}}},
   {"mark": {"type": "tick", "color": "#000000", "size": 14, "thickness": 3.5, "opacity": 1}, "encoding": {"xOffset": {"field": "h", "type": "nominal"}, "y": {"field": "hi", "type": "quantitative", "title": "conc. (ng m⁻³)"}}}
  ]},
 {"width": 1043, "height": 508, "data": {"name": "flux"}, "transform": [{"filter": "datum.d === 'June 10'"}],
  "encoding": {"x": {"field": "c", "type": "nominal", "scale": {"domain": ["α-pinene","Δ³-carene","b-myrcene","d-limonene","β-pinene","camphene","p-cymene","other MT"], "paddingInner": 0.1, "paddingOuter": 0.15}, "axis": {"title": "MT compound", "titlePadding": 12, "labelAngle": -45, "labelAlign": "right", "labelBaseline": "top", "labelFontStyle": "italic"}}},
  "layer": [
   {"mark": {"type": "bar", "color": "#00FF00"}, "encoding": {"y": {"field": "v", "type": "quantitative", "title": "mean flux (ng m⁻² s⁻¹)", "scale": {"domain": [-13.4, 83.2], "nice": false, "zero": false}, "axis": {"values": [-10,0,10,20,30,40,50,60,70,80], "labelExpr": "datum.value % 20 === 0 ? datum.label : ''", "gridWidth": {"condition": {"test": "datum.value % 20 === 0", "value": 3.5}, "value": 1.8}, "tickColor": {"condition": {"test": "datum.value % 20 === 0", "value": "#333333"}, "value": "transparent"}, "titlePadding": 39}}}},
   {"data": {"name": "annF"}, "transform": [{"filter": "datum.d === 'June 10'"}], "mark": {"type": "text", "fontSize": 34, "color": "#000000", "align": "center", "baseline": "middle"}, "encoding": {"y": {"field": "y", "type": "quantitative", "title": "mean flux (ng m⁻² s⁻¹)"}, "text": {"field": "t"}}},
   {"mark": {"type": "rule", "color": "#000000", "strokeWidth": 3.5}, "encoding": {"y": {"field": "lo", "type": "quantitative", "title": "mean flux (ng m⁻² s⁻¹)"}, "y2": {"field": "hi"}}},
   {"mark": {"type": "tick", "color": "#000000", "size": 26, "thickness": 3.5, "opacity": 1}, "encoding": {"y": {"field": "lo", "type": "quantitative", "title": "mean flux (ng m⁻² s⁻¹)"}}},
   {"mark": {"type": "tick", "color": "#000000", "size": 26, "thickness": 3.5, "opacity": 1}, "encoding": {"y": {"field": "hi", "type": "quantitative", "title": "mean flux (ng m⁻² s⁻¹)"}}}
  ]}
]}
], "spacing": 66},
{"hconcat": [
{"title": {"text": "(d)", "fontWeight": "bold", "dx": -153, "dy": 76}, "bounds": "flush", "spacing": 20, "vconcat": [
 {"width": 1043, "height": 502, "title": "July 22", "data": {"name": "conc"}, "transform": [{"filter": "datum.d === 'July 22'"}],
  "encoding": {"x": {"field": "c", "type": "nominal", "scale": {"domain": ["α-pinene","Δ³-carene","b-myrcene","d-limonene","β-pinene","camphene","p-cymene","other MT"], "paddingInner": 0.1, "paddingOuter": 0.15}, "axis": {"labels": false, "title": null}}},
  "layer": [
   {"mark": {"type": "bar"}, "encoding": {"xOffset": {"field": "h", "type": "nominal", "scale": {"paddingInner": 0, "paddingOuter": 0}}, "y": {"field": "v", "type": "quantitative", "title": "conc. (ng m⁻³)", "scale": {"domain": [-25, 525], "nice": false, "zero": false}, "axis": {"values": [0,50,100,150,200,250,300,350,400,450,500], "labelExpr": "datum.value % 20 === 0 ? datum.label : ''", "gridWidth": {"condition": {"test": "datum.value % 20 === 0", "value": 3.5}, "value": 1.8}, "tickColor": {"condition": {"test": "datum.value % 20 === 0", "value": "#333333"}, "value": "transparent"}, "titlePadding": 20}}, "color": {"field": "h", "type": "nominal", "scale": {"domain": ["37 m","60 m"], "range": ["#FF0000","#0000FF"]}, "legend": {"title": "sampling height", "orient": "none", "legendX": 1342, "legendY": -174, "direction": "horizontal", "titleOrient": "left", "titleLimit": 1000, "titleFontSize": 45.8, "titleFontWeight": "normal", "titleColor": "#000000", "labelFontSize": 36.7, "labelColor": "#000000", "symbolType": "square", "symbolSize": 3025, "symbolStrokeWidth": 0, "symbolOpacity": 1, "labelOffset": 30, "columnPadding": 30, "titlePadding": 27}}}},
   {"data": {"name": "annC"}, "transform": [{"filter": "datum.d === 'July 22'"}], "mark": {"type": "text", "fontSize": 34, "color": "#000000", "align": "center", "baseline": "middle"}, "encoding": {"y": {"field": "y", "type": "quantitative", "title": "conc. (ng m⁻³)"}, "text": {"field": "t"}}},
   {"mark": {"type": "rule", "color": "#000000", "strokeWidth": 3.5}, "encoding": {"xOffset": {"field": "h", "type": "nominal"}, "y": {"field": "lo", "type": "quantitative", "title": "conc. (ng m⁻³)"}, "y2": {"field": "hi"}}},
   {"mark": {"type": "tick", "color": "#000000", "size": 14, "thickness": 3.5, "opacity": 1}, "encoding": {"xOffset": {"field": "h", "type": "nominal"}, "y": {"field": "lo", "type": "quantitative", "title": "conc. (ng m⁻³)"}}},
   {"mark": {"type": "tick", "color": "#000000", "size": 14, "thickness": 3.5, "opacity": 1}, "encoding": {"xOffset": {"field": "h", "type": "nominal"}, "y": {"field": "hi", "type": "quantitative", "title": "conc. (ng m⁻³)"}}}
  ]},
 {"width": 1043, "height": 508, "data": {"name": "flux"}, "transform": [{"filter": "datum.d === 'July 22'"}],
  "encoding": {"x": {"field": "c", "type": "nominal", "scale": {"domain": ["α-pinene","Δ³-carene","b-myrcene","d-limonene","β-pinene","camphene","p-cymene","other MT"], "paddingInner": 0.1, "paddingOuter": 0.15}, "axis": {"title": "MT compound", "titlePadding": 12, "labelAngle": -45, "labelAlign": "right", "labelBaseline": "top", "labelFontStyle": "italic"}}},
  "layer": [
   {"mark": {"type": "bar", "color": "#00FF00"}, "encoding": {"y": {"field": "v", "type": "quantitative", "title": "mean flux (ng m⁻² s⁻¹)", "scale": {"domain": [-13.4, 83.2], "nice": false, "zero": false}, "axis": {"values": [-10,0,10,20,30,40,50,60,70,80], "labelExpr": "datum.value % 20 === 0 ? datum.label : ''", "gridWidth": {"condition": {"test": "datum.value % 20 === 0", "value": 3.5}, "value": 1.8}, "tickColor": {"condition": {"test": "datum.value % 20 === 0", "value": "#333333"}, "value": "transparent"}, "titlePadding": 39}}}},
   {"data": {"name": "annF"}, "transform": [{"filter": "datum.d === 'July 22'"}], "mark": {"type": "text", "fontSize": 34, "color": "#000000", "align": "center", "baseline": "middle"}, "encoding": {"y": {"field": "y", "type": "quantitative", "title": "mean flux (ng m⁻² s⁻¹)"}, "text": {"field": "t"}}},
   {"mark": {"type": "rule", "color": "#000000", "strokeWidth": 3.5}, "encoding": {"y": {"field": "lo", "type": "quantitative", "title": "mean flux (ng m⁻² s⁻¹)"}, "y2": {"field": "hi"}}},
   {"mark": {"type": "tick", "color": "#000000", "size": 26, "thickness": 3.5, "opacity": 1}, "encoding": {"y": {"field": "lo", "type": "quantitative", "title": "mean flux (ng m⁻² s⁻¹)"}}},
   {"mark": {"type": "tick", "color": "#000000", "size": 26, "thickness": 3.5, "opacity": 1}, "encoding": {"y": {"field": "hi", "type": "quantitative", "title": "mean flux (ng m⁻² s⁻¹)"}}}
  ]}
]},
{"title": {"text": "(e)", "fontWeight": "bold", "dx": -153, "dy": 76}, "bounds": "flush", "spacing": 20, "vconcat": [
 {"width": 1043, "height": 502, "title": "July 23", "data": {"name": "conc"}, "transform": [{"filter": "datum.d === 'July 23'"}],
  "encoding": {"x": {"field": "c", "type": "nominal", "scale": {"domain": ["α-pinene","Δ³-carene","b-myrcene","d-limonene","β-pinene","camphene","p-cymene","other MT"], "paddingInner": 0.1, "paddingOuter": 0.15}, "axis": {"labels": false, "title": null}}},
  "layer": [
   {"mark": {"type": "bar"}, "encoding": {"xOffset": {"field": "h", "type": "nominal", "scale": {"paddingInner": 0, "paddingOuter": 0}}, "y": {"field": "v", "type": "quantitative", "title": "conc. (ng m⁻³)", "scale": {"domain": [-25, 525], "nice": false, "zero": false}, "axis": {"values": [0,50,100,150,200,250,300,350,400,450,500], "labelExpr": "datum.value % 20 === 0 ? datum.label : ''", "gridWidth": {"condition": {"test": "datum.value % 20 === 0", "value": 3.5}, "value": 1.8}, "tickColor": {"condition": {"test": "datum.value % 20 === 0", "value": "#333333"}, "value": "transparent"}, "titlePadding": 20}}, "color": {"field": "h", "type": "nominal", "scale": {"domain": ["37 m","60 m"], "range": ["#FF0000","#0000FF"]}, "legend": {"title": "sampling height", "orient": "none", "legendX": 1342, "legendY": -174, "direction": "horizontal", "titleOrient": "left", "titleLimit": 1000, "titleFontSize": 45.8, "titleFontWeight": "normal", "titleColor": "#000000", "labelFontSize": 36.7, "labelColor": "#000000", "symbolType": "square", "symbolSize": 3025, "symbolStrokeWidth": 0, "symbolOpacity": 1, "labelOffset": 30, "columnPadding": 30, "titlePadding": 27}}}},
   {"data": {"name": "annC"}, "transform": [{"filter": "datum.d === 'July 23'"}], "mark": {"type": "text", "fontSize": 34, "color": "#000000", "align": "center", "baseline": "middle"}, "encoding": {"y": {"field": "y", "type": "quantitative", "title": "conc. (ng m⁻³)"}, "text": {"field": "t"}}},
   {"mark": {"type": "rule", "color": "#000000", "strokeWidth": 3.5}, "encoding": {"xOffset": {"field": "h", "type": "nominal"}, "y": {"field": "lo", "type": "quantitative", "title": "conc. (ng m⁻³)"}, "y2": {"field": "hi"}}},
   {"mark": {"type": "tick", "color": "#000000", "size": 14, "thickness": 3.5, "opacity": 1}, "encoding": {"xOffset": {"field": "h", "type": "nominal"}, "y": {"field": "lo", "type": "quantitative", "title": "conc. (ng m⁻³)"}}},
   {"mark": {"type": "tick", "color": "#000000", "size": 14, "thickness": 3.5, "opacity": 1}, "encoding": {"xOffset": {"field": "h", "type": "nominal"}, "y": {"field": "hi", "type": "quantitative", "title": "conc. (ng m⁻³)"}}}
  ]},
 {"width": 1043, "height": 508, "data": {"name": "flux"}, "transform": [{"filter": "datum.d === 'July 23'"}],
  "encoding": {"x": {"field": "c", "type": "nominal", "scale": {"domain": ["α-pinene","Δ³-carene","b-myrcene","d-limonene","β-pinene","camphene","p-cymene","other MT"], "paddingInner": 0.1, "paddingOuter": 0.15}, "axis": {"title": "MT compound", "titlePadding": 12, "labelAngle": -45, "labelAlign": "right", "labelBaseline": "top", "labelFontStyle": "italic"}}},
  "layer": [
   {"mark": {"type": "bar", "color": "#00FF00"}, "encoding": {"y": {"field": "v", "type": "quantitative", "title": "mean flux (ng m⁻² s⁻¹)", "scale": {"domain": [-13.4, 83.2], "nice": false, "zero": false}, "axis": {"values": [-10,0,10,20,30,40,50,60,70,80], "labelExpr": "datum.value % 20 === 0 ? datum.label : ''", "gridWidth": {"condition": {"test": "datum.value % 20 === 0", "value": 3.5}, "value": 1.8}, "tickColor": {"condition": {"test": "datum.value % 20 === 0", "value": "#333333"}, "value": "transparent"}, "titlePadding": 39}}}},
   {"data": {"name": "annF"}, "transform": [{"filter": "datum.d === 'July 23'"}], "mark": {"type": "text", "fontSize": 34, "color": "#000000", "align": "center", "baseline": "middle"}, "encoding": {"y": {"field": "y", "type": "quantitative", "title": "mean flux (ng m⁻² s⁻¹)"}, "text": {"field": "t"}}},
   {"mark": {"type": "rule", "color": "#000000", "strokeWidth": 3.5}, "encoding": {"y": {"field": "lo", "type": "quantitative", "title": "mean flux (ng m⁻² s⁻¹)"}, "y2": {"field": "hi"}}},
   {"mark": {"type": "tick", "color": "#000000", "size": 26, "thickness": 3.5, "opacity": 1}, "encoding": {"y": {"field": "lo", "type": "quantitative", "title": "mean flux (ng m⁻² s⁻¹)"}}},
   {"mark": {"type": "tick", "color": "#000000", "size": 26, "thickness": 3.5, "opacity": 1}, "encoding": {"y": {"field": "hi", "type": "quantitative", "title": "mean flux (ng m⁻² s⁻¹)"}}}
  ]}
]},
{"title": {"text": "(f)", "fontWeight": "bold", "dx": -153, "dy": 76}, "bounds": "flush", "spacing": 20, "vconcat": [
 {"width": 1043, "height": 502, "title": "July 24", "data": {"name": "conc"}, "transform": [{"filter": "datum.d === 'July 24'"}],
  "encoding": {"x": {"field": "c", "type": "nominal", "scale": {"domain": ["α-pinene","Δ³-carene","b-myrcene","d-limonene","β-pinene","camphene","p-cymene","other MT"], "paddingInner": 0.1, "paddingOuter": 0.15}, "axis": {"labels": false, "title": null}}},
  "layer": [
   {"mark": {"type": "bar"}, "encoding": {"xOffset": {"field": "h", "type": "nominal", "scale": {"paddingInner": 0, "paddingOuter": 0}}, "y": {"field": "v", "type": "quantitative", "title": "conc. (ng m⁻³)", "scale": {"domain": [-25, 525], "nice": false, "zero": false}, "axis": {"values": [0,50,100,150,200,250,300,350,400,450,500], "labelExpr": "datum.value % 20 === 0 ? datum.label : ''", "gridWidth": {"condition": {"test": "datum.value % 20 === 0", "value": 3.5}, "value": 1.8}, "tickColor": {"condition": {"test": "datum.value % 20 === 0", "value": "#333333"}, "value": "transparent"}, "titlePadding": 20}}, "color": {"field": "h", "type": "nominal", "scale": {"domain": ["37 m","60 m"], "range": ["#FF0000","#0000FF"]}, "legend": {"title": "sampling height", "orient": "none", "legendX": 1342, "legendY": -174, "direction": "horizontal", "titleOrient": "left", "titleLimit": 1000, "titleFontSize": 45.8, "titleFontWeight": "normal", "titleColor": "#000000", "labelFontSize": 36.7, "labelColor": "#000000", "symbolType": "square", "symbolSize": 3025, "symbolStrokeWidth": 0, "symbolOpacity": 1, "labelOffset": 30, "columnPadding": 30, "titlePadding": 27}}}},
   {"data": {"name": "annC"}, "transform": [{"filter": "datum.d === 'July 24'"}], "mark": {"type": "text", "fontSize": 34, "color": "#000000", "align": "center", "baseline": "middle"}, "encoding": {"y": {"field": "y", "type": "quantitative", "title": "conc. (ng m⁻³)"}, "text": {"field": "t"}}},
   {"mark": {"type": "rule", "color": "#000000", "strokeWidth": 3.5}, "encoding": {"xOffset": {"field": "h", "type": "nominal"}, "y": {"field": "lo", "type": "quantitative", "title": "conc. (ng m⁻³)"}, "y2": {"field": "hi"}}},
   {"mark": {"type": "tick", "color": "#000000", "size": 14, "thickness": 3.5, "opacity": 1}, "encoding": {"xOffset": {"field": "h", "type": "nominal"}, "y": {"field": "lo", "type": "quantitative", "title": "conc. (ng m⁻³)"}}},
   {"mark": {"type": "tick", "color": "#000000", "size": 14, "thickness": 3.5, "opacity": 1}, "encoding": {"xOffset": {"field": "h", "type": "nominal"}, "y": {"field": "hi", "type": "quantitative", "title": "conc. (ng m⁻³)"}}}
  ]},
 {"width": 1043, "height": 508, "data": {"name": "flux"}, "transform": [{"filter": "datum.d === 'July 24'"}],
  "encoding": {"x": {"field": "c", "type": "nominal", "scale": {"domain": ["α-pinene","Δ³-carene","b-myrcene","d-limonene","β-pinene","camphene","p-cymene","other MT"], "paddingInner": 0.1, "paddingOuter": 0.15}, "axis": {"title": "MT compound", "titlePadding": 12, "labelAngle": -45, "labelAlign": "right", "labelBaseline": "top", "labelFontStyle": "italic"}}},
  "layer": [
   {"mark": {"type": "bar", "color": "#00FF00"}, "encoding": {"y": {"field": "v", "type": "quantitative", "title": "mean flux (ng m⁻² s⁻¹)", "scale": {"domain": [-13.4, 83.2], "nice": false, "zero": false}, "axis": {"values": [-10,0,10,20,30,40,50,60,70,80], "labelExpr": "datum.value % 20 === 0 ? datum.label : ''", "gridWidth": {"condition": {"test": "datum.value % 20 === 0", "value": 3.5}, "value": 1.8}, "tickColor": {"condition": {"test": "datum.value % 20 === 0", "value": "#333333"}, "value": "transparent"}, "titlePadding": 39}}}},
   {"data": {"name": "annF"}, "transform": [{"filter": "datum.d === 'July 24'"}], "mark": {"type": "text", "fontSize": 34, "color": "#000000", "align": "center", "baseline": "middle"}, "encoding": {"y": {"field": "y", "type": "quantitative", "title": "mean flux (ng m⁻² s⁻¹)"}, "text": {"field": "t"}}},
   {"mark": {"type": "rule", "color": "#000000", "strokeWidth": 3.5}, "encoding": {"y": {"field": "lo", "type": "quantitative", "title": "mean flux (ng m⁻² s⁻¹)"}, "y2": {"field": "hi"}}},
   {"mark": {"type": "tick", "color": "#000000", "size": 26, "thickness": 3.5, "opacity": 1}, "encoding": {"y": {"field": "lo", "type": "quantitative", "title": "mean flux (ng m⁻² s⁻¹)"}}},
   {"mark": {"type": "tick", "color": "#000000", "size": 26, "thickness": 3.5, "opacity": 1}, "encoding": {"y": {"field": "hi", "type": "quantitative", "title": "mean flux (ng m⁻² s⁻¹)"}}}
  ]}
]}
], "spacing": 66},
{"hconcat": [
{"title": {"text": "(g)", "fontWeight": "bold", "dx": -153, "dy": 76}, "bounds": "flush", "spacing": 20, "vconcat": [
 {"width": 1043, "height": 502, "title": "August 16", "data": {"name": "conc"}, "transform": [{"filter": "datum.d === 'August 16'"}],
  "encoding": {"x": {"field": "c", "type": "nominal", "scale": {"domain": ["α-pinene","Δ³-carene","b-myrcene","d-limonene","β-pinene","camphene","p-cymene","other MT"], "paddingInner": 0.1, "paddingOuter": 0.15}, "axis": {"labels": false, "title": null}}},
  "layer": [
   {"mark": {"type": "bar"}, "encoding": {"xOffset": {"field": "h", "type": "nominal", "scale": {"paddingInner": 0, "paddingOuter": 0}}, "y": {"field": "v", "type": "quantitative", "title": "conc. (ng m⁻³)", "scale": {"domain": [-25, 525], "nice": false, "zero": false}, "axis": {"values": [0,50,100,150,200,250,300,350,400,450,500], "labelExpr": "datum.value % 20 === 0 ? datum.label : ''", "gridWidth": {"condition": {"test": "datum.value % 20 === 0", "value": 3.5}, "value": 1.8}, "tickColor": {"condition": {"test": "datum.value % 20 === 0", "value": "#333333"}, "value": "transparent"}, "titlePadding": 20}}, "color": {"field": "h", "type": "nominal", "scale": {"domain": ["37 m","60 m"], "range": ["#FF0000","#0000FF"]}, "legend": {"title": "sampling height", "orient": "none", "legendX": 1342, "legendY": -174, "direction": "horizontal", "titleOrient": "left", "titleLimit": 1000, "titleFontSize": 45.8, "titleFontWeight": "normal", "titleColor": "#000000", "labelFontSize": 36.7, "labelColor": "#000000", "symbolType": "square", "symbolSize": 3025, "symbolStrokeWidth": 0, "symbolOpacity": 1, "labelOffset": 30, "columnPadding": 30, "titlePadding": 27}}}},
   {"data": {"name": "annC"}, "transform": [{"filter": "datum.d === 'August 16'"}], "mark": {"type": "text", "fontSize": 34, "color": "#000000", "align": "center", "baseline": "middle"}, "encoding": {"y": {"field": "y", "type": "quantitative", "title": "conc. (ng m⁻³)"}, "text": {"field": "t"}}},
   {"mark": {"type": "rule", "color": "#000000", "strokeWidth": 3.5}, "encoding": {"xOffset": {"field": "h", "type": "nominal"}, "y": {"field": "lo", "type": "quantitative", "title": "conc. (ng m⁻³)"}, "y2": {"field": "hi"}}},
   {"mark": {"type": "tick", "color": "#000000", "size": 14, "thickness": 3.5, "opacity": 1}, "encoding": {"xOffset": {"field": "h", "type": "nominal"}, "y": {"field": "lo", "type": "quantitative", "title": "conc. (ng m⁻³)"}}},
   {"mark": {"type": "tick", "color": "#000000", "size": 14, "thickness": 3.5, "opacity": 1}, "encoding": {"xOffset": {"field": "h", "type": "nominal"}, "y": {"field": "hi", "type": "quantitative", "title": "conc. (ng m⁻³)"}}}
  ]},
 {"width": 1043, "height": 508, "data": {"name": "flux"}, "transform": [{"filter": "datum.d === 'August 16'"}],
  "encoding": {"x": {"field": "c", "type": "nominal", "scale": {"domain": ["α-pinene","Δ³-carene","b-myrcene","d-limonene","β-pinene","camphene","p-cymene","other MT"], "paddingInner": 0.1, "paddingOuter": 0.15}, "axis": {"title": "MT compound", "titlePadding": 12, "labelAngle": -45, "labelAlign": "right", "labelBaseline": "top", "labelFontStyle": "italic"}}},
  "layer": [
   {"mark": {"type": "bar", "color": "#00FF00"}, "encoding": {"y": {"field": "v", "type": "quantitative", "title": "mean flux (ng m⁻² s⁻¹)", "scale": {"domain": [-13.4, 83.2], "nice": false, "zero": false}, "axis": {"values": [-10,0,10,20,30,40,50,60,70,80], "labelExpr": "datum.value % 20 === 0 ? datum.label : ''", "gridWidth": {"condition": {"test": "datum.value % 20 === 0", "value": 3.5}, "value": 1.8}, "tickColor": {"condition": {"test": "datum.value % 20 === 0", "value": "#333333"}, "value": "transparent"}, "titlePadding": 39}}}},
   {"data": {"name": "annF"}, "transform": [{"filter": "datum.d === 'August 16'"}], "mark": {"type": "text", "fontSize": 34, "color": "#000000", "align": "center", "baseline": "middle"}, "encoding": {"y": {"field": "y", "type": "quantitative", "title": "mean flux (ng m⁻² s⁻¹)"}, "text": {"field": "t"}}},
   {"mark": {"type": "rule", "color": "#000000", "strokeWidth": 3.5}, "encoding": {"y": {"field": "lo", "type": "quantitative", "title": "mean flux (ng m⁻² s⁻¹)"}, "y2": {"field": "hi"}}},
   {"mark": {"type": "tick", "color": "#000000", "size": 26, "thickness": 3.5, "opacity": 1}, "encoding": {"y": {"field": "lo", "type": "quantitative", "title": "mean flux (ng m⁻² s⁻¹)"}}},
   {"mark": {"type": "tick", "color": "#000000", "size": 26, "thickness": 3.5, "opacity": 1}, "encoding": {"y": {"field": "hi", "type": "quantitative", "title": "mean flux (ng m⁻² s⁻¹)"}}}
  ]}
]},
{"title": {"text": "(h)", "fontWeight": "bold", "dx": -153, "dy": 76}, "bounds": "flush", "spacing": 20, "vconcat": [
 {"width": 1043, "height": 502, "title": "August 17", "data": {"name": "conc"}, "transform": [{"filter": "datum.d === 'August 17'"}],
  "encoding": {"x": {"field": "c", "type": "nominal", "scale": {"domain": ["α-pinene","Δ³-carene","b-myrcene","d-limonene","β-pinene","camphene","p-cymene","other MT"], "paddingInner": 0.1, "paddingOuter": 0.15}, "axis": {"labels": false, "title": null}}},
  "layer": [
   {"mark": {"type": "bar"}, "encoding": {"xOffset": {"field": "h", "type": "nominal", "scale": {"paddingInner": 0, "paddingOuter": 0}}, "y": {"field": "v", "type": "quantitative", "title": "conc. (ng m⁻³)", "scale": {"domain": [-25, 525], "nice": false, "zero": false}, "axis": {"values": [0,50,100,150,200,250,300,350,400,450,500], "labelExpr": "datum.value % 20 === 0 ? datum.label : ''", "gridWidth": {"condition": {"test": "datum.value % 20 === 0", "value": 3.5}, "value": 1.8}, "tickColor": {"condition": {"test": "datum.value % 20 === 0", "value": "#333333"}, "value": "transparent"}, "titlePadding": 20}}, "color": {"field": "h", "type": "nominal", "scale": {"domain": ["37 m","60 m"], "range": ["#FF0000","#0000FF"]}, "legend": {"title": "sampling height", "orient": "none", "legendX": 1342, "legendY": -174, "direction": "horizontal", "titleOrient": "left", "titleLimit": 1000, "titleFontSize": 45.8, "titleFontWeight": "normal", "titleColor": "#000000", "labelFontSize": 36.7, "labelColor": "#000000", "symbolType": "square", "symbolSize": 3025, "symbolStrokeWidth": 0, "symbolOpacity": 1, "labelOffset": 30, "columnPadding": 30, "titlePadding": 27}}}},
   {"data": {"name": "annC"}, "transform": [{"filter": "datum.d === 'August 17'"}], "mark": {"type": "text", "fontSize": 34, "color": "#000000", "align": "center", "baseline": "middle"}, "encoding": {"y": {"field": "y", "type": "quantitative", "title": "conc. (ng m⁻³)"}, "text": {"field": "t"}}},
   {"mark": {"type": "rule", "color": "#000000", "strokeWidth": 3.5}, "encoding": {"xOffset": {"field": "h", "type": "nominal"}, "y": {"field": "lo", "type": "quantitative", "title": "conc. (ng m⁻³)"}, "y2": {"field": "hi"}}},
   {"mark": {"type": "tick", "color": "#000000", "size": 14, "thickness": 3.5, "opacity": 1}, "encoding": {"xOffset": {"field": "h", "type": "nominal"}, "y": {"field": "lo", "type": "quantitative", "title": "conc. (ng m⁻³)"}}},
   {"mark": {"type": "tick", "color": "#000000", "size": 14, "thickness": 3.5, "opacity": 1}, "encoding": {"xOffset": {"field": "h", "type": "nominal"}, "y": {"field": "hi", "type": "quantitative", "title": "conc. (ng m⁻³)"}}}
  ]},
 {"width": 1043, "height": 508, "data": {"name": "flux"}, "transform": [{"filter": "datum.d === 'August 17'"}],
  "encoding": {"x": {"field": "c", "type": "nominal", "scale": {"domain": ["α-pinene","Δ³-carene","b-myrcene","d-limonene","β-pinene","camphene","p-cymene","other MT"], "paddingInner": 0.1, "paddingOuter": 0.15}, "axis": {"title": "MT compound", "titlePadding": 12, "labelAngle": -45, "labelAlign": "right", "labelBaseline": "top", "labelFontStyle": "italic"}}},
  "layer": [
   {"mark": {"type": "bar", "color": "#00FF00"}, "encoding": {"y": {"field": "v", "type": "quantitative", "title": "mean flux (ng m⁻² s⁻¹)", "scale": {"domain": [-13.4, 83.2], "nice": false, "zero": false}, "axis": {"values": [-10,0,10,20,30,40,50,60,70,80], "labelExpr": "datum.value % 20 === 0 ? datum.label : ''", "gridWidth": {"condition": {"test": "datum.value % 20 === 0", "value": 3.5}, "value": 1.8}, "tickColor": {"condition": {"test": "datum.value % 20 === 0", "value": "#333333"}, "value": "transparent"}, "titlePadding": 39}}}},
   {"data": {"name": "annF"}, "transform": [{"filter": "datum.d === 'August 17'"}], "mark": {"type": "text", "fontSize": 34, "color": "#000000", "align": "center", "baseline": "middle"}, "encoding": {"y": {"field": "y", "type": "quantitative", "title": "mean flux (ng m⁻² s⁻¹)"}, "text": {"field": "t"}}},
   {"mark": {"type": "rule", "color": "#000000", "strokeWidth": 3.5}, "encoding": {"y": {"field": "lo", "type": "quantitative", "title": "mean flux (ng m⁻² s⁻¹)"}, "y2": {"field": "hi"}}},
   {"mark": {"type": "tick", "color": "#000000", "size": 26, "thickness": 3.5, "opacity": 1}, "encoding": {"y": {"field": "lo", "type": "quantitative", "title": "mean flux (ng m⁻² s⁻¹)"}}},
   {"mark": {"type": "tick", "color": "#000000", "size": 26, "thickness": 3.5, "opacity": 1}, "encoding": {"y": {"field": "hi", "type": "quantitative", "title": "mean flux (ng m⁻² s⁻¹)"}}}
  ]}
]},
{"title": {"text": "(i)", "fontWeight": "bold", "dx": -153, "dy": 76}, "bounds": "flush", "spacing": 20, "vconcat": [
 {"width": 1043, "height": 502, "title": "August 18", "data": {"name": "conc"}, "transform": [{"filter": "datum.d === 'August 18'"}],
  "encoding": {"x": {"field": "c", "type": "nominal", "scale": {"domain": ["α-pinene","Δ³-carene","b-myrcene","d-limonene","β-pinene","camphene","p-cymene","other MT"], "paddingInner": 0.1, "paddingOuter": 0.15}, "axis": {"labels": false, "title": null}}},
  "layer": [
   {"mark": {"type": "bar"}, "encoding": {"xOffset": {"field": "h", "type": "nominal", "scale": {"paddingInner": 0, "paddingOuter": 0}}, "y": {"field": "v", "type": "quantitative", "title": "conc. (ng m⁻³)", "scale": {"domain": [-25, 525], "nice": false, "zero": false}, "axis": {"values": [0,50,100,150,200,250,300,350,400,450,500], "labelExpr": "datum.value % 20 === 0 ? datum.label : ''", "gridWidth": {"condition": {"test": "datum.value % 20 === 0", "value": 3.5}, "value": 1.8}, "tickColor": {"condition": {"test": "datum.value % 20 === 0", "value": "#333333"}, "value": "transparent"}, "titlePadding": 20}}, "color": {"field": "h", "type": "nominal", "scale": {"domain": ["37 m","60 m"], "range": ["#FF0000","#0000FF"]}, "legend": {"title": "sampling height", "orient": "none", "legendX": 1342, "legendY": -174, "direction": "horizontal", "titleOrient": "left", "titleLimit": 1000, "titleFontSize": 45.8, "titleFontWeight": "normal", "titleColor": "#000000", "labelFontSize": 36.7, "labelColor": "#000000", "symbolType": "square", "symbolSize": 3025, "symbolStrokeWidth": 0, "symbolOpacity": 1, "labelOffset": 30, "columnPadding": 30, "titlePadding": 27}}}},
   {"data": {"name": "annC"}, "transform": [{"filter": "datum.d === 'August 18'"}], "mark": {"type": "text", "fontSize": 34, "color": "#000000", "align": "center", "baseline": "middle"}, "encoding": {"y": {"field": "y", "type": "quantitative", "title": "conc. (ng m⁻³)"}, "text": {"field": "t"}}},
   {"mark": {"type": "rule", "color": "#000000", "strokeWidth": 3.5}, "encoding": {"xOffset": {"field": "h", "type": "nominal"}, "y": {"field": "lo", "type": "quantitative", "title": "conc. (ng m⁻³)"}, "y2": {"field": "hi"}}},
   {"mark": {"type": "tick", "color": "#000000", "size": 14, "thickness": 3.5, "opacity": 1}, "encoding": {"xOffset": {"field": "h", "type": "nominal"}, "y": {"field": "lo", "type": "quantitative", "title": "conc. (ng m⁻³)"}}},
   {"mark": {"type": "tick", "color": "#000000", "size": 14, "thickness": 3.5, "opacity": 1}, "encoding": {"xOffset": {"field": "h", "type": "nominal"}, "y": {"field": "hi", "type": "quantitative", "title": "conc. (ng m⁻³)"}}}
  ]},
 {"width": 1043, "height": 508, "data": {"name": "flux"}, "transform": [{"filter": "datum.d === 'August 18'"}],
  "encoding": {"x": {"field": "c", "type": "nominal", "scale": {"domain": ["α-pinene","Δ³-carene","b-myrcene","d-limonene","β-pinene","camphene","p-cymene","other MT"], "paddingInner": 0.1, "paddingOuter": 0.15}, "axis": {"title": "MT compound", "titlePadding": 12, "labelAngle": -45, "labelAlign": "right", "labelBaseline": "top", "labelFontStyle": "italic"}}},
  "layer": [
   {"mark": {"type": "bar", "color": "#00FF00"}, "encoding": {"y": {"field": "v", "type": "quantitative", "title": "mean flux (ng m⁻² s⁻¹)", "scale": {"domain": [-13.4, 83.2], "nice": false, "zero": false}, "axis": {"values": [-10,0,10,20,30,40,50,60,70,80], "labelExpr": "datum.value % 20 === 0 ? datum.label : ''", "gridWidth": {"condition": {"test": "datum.value % 20 === 0", "value": 3.5}, "value": 1.8}, "tickColor": {"condition": {"test": "datum.value % 20 === 0", "value": "#333333"}, "value": "transparent"}, "titlePadding": 39}}}},
   {"data": {"name": "annF"}, "transform": [{"filter": "datum.d === 'August 18'"}], "mark": {"type": "text", "fontSize": 34, "color": "#000000", "align": "center", "baseline": "middle"}, "encoding": {"y": {"field": "y", "type": "quantitative", "title": "mean flux (ng m⁻² s⁻¹)"}, "text": {"field": "t"}}},
   {"mark": {"type": "rule", "color": "#000000", "strokeWidth": 3.5}, "encoding": {"y": {"field": "lo", "type": "quantitative", "title": "mean flux (ng m⁻² s⁻¹)"}, "y2": {"field": "hi"}}},
   {"mark": {"type": "tick", "color": "#000000", "size": 26, "thickness": 3.5, "opacity": 1}, "encoding": {"y": {"field": "lo", "type": "quantitative", "title": "mean flux (ng m⁻² s⁻¹)"}}},
   {"mark": {"type": "tick", "color": "#000000", "size": 26, "thickness": 3.5, "opacity": 1}, "encoding": {"y": {"field": "hi", "type": "quantitative", "title": "mean flux (ng m⁻² s⁻¹)"}}}
  ]}
]}
], "spacing": 66}
]
}
